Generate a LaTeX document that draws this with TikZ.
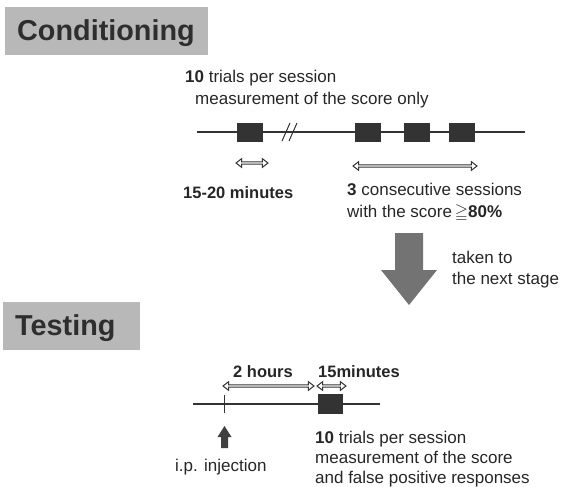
\documentclass[tikz,border=0pt]{standalone}
\usepackage{amssymb}
\usepackage{fontspec}
\setmainfont{Liberation Sans}
\usetikzlibrary{arrows.meta,shapes.arrows}
\begin{document}
\begin{tikzpicture}[x=1pt,y=-1pt,
  txt/.style={text=black!85, font=\fontsize{17}{20}\selectfont, inner sep=0pt, anchor=base west},
  btxt/.style={txt, font=\fontsize{16.5}{20}\selectfont\bfseries},
  headtxt/.style={text=black!82, font=\fontsize{28.8}{32}\selectfont\bfseries, inner sep=0pt, anchor=base west},
  headbox/.style={fill=black!28, draw=none, inner sep=0pt, anchor=north west},
  sess/.style={fill=black!80, draw=black!80, minimum width=25pt, minimum height=18pt, inner sep=0pt},
  tl/.style={draw=black!80, line width=1.3pt},
  dbl/.style={double arrow, draw=black!80, fill=white, line width=1pt, inner sep=0pt,
              minimum width=8.5pt, double arrow head extend=1.6pt, double arrow tip angle=75},
  bigarrow/.style={fill=black!55, draw=none},
  smallarrow/.style={fill=black!75, draw=none}
]
\useasboundingbox (0,0) rectangle (562,487);

% ---------- Conditioning ----------
\node[headbox, minimum width=203pt, minimum height=48pt] (condbox) at (5,7) {};
\node[headtxt] (condtxt) at (17,41) {Conditioning};

\node[txt] (c10) at (185,82) {{\bfseries 10} trials per session};
\node[txt] (cmeas) at (195,104) {measurement of the score only};

\coordinate (a0) at (197,132);
\coordinate (a1) at (525,132);
\draw[tl] (a0) -- (a1);
\draw[tl, line width=1pt] (282,141) -- (290,123);
\draw[tl, line width=1pt] (289,141) -- (297,123);
\node[sess] (b1) at (250,132) {};
\node[sess] (b2) at (368,132) {};
\node[sess] (b3) at (417,132) {};
\node[sess] (b4) at (461.5,132) {};

\node[dbl, minimum height=32pt] (d1) at (252,163) {};
\node[dbl, minimum height=124pt] (d2) at (415,166) {};

\node[btxt] (c1520) at (183,198) {15-20 minutes};
\node[txt] (c3a) at (347,195) {{\bfseries 3} consecutive sessions};
\node[txt] (c3b) at (347,217) {with the score\,{\boldmath$\geqq$}{\bfseries 80\%}};

% ---------- big arrow ----------
\fill[bigarrow] (395,233) -- (423,233) -- (423,270) -- (437,270) -- (409,305)
  -- (381,270) -- (395,270) -- cycle;
\node[txt] (tk1) at (452,263) {taken to};
\node[txt] (tk2) at (452,284) {the next stage};

% ---------- Testing ----------
\node[headbox, minimum width=137pt, minimum height=48pt] (testbox) at (3,302) {};
\node[headtxt] (testtxt) at (15,335) {Testing};

\node[btxt] (t2h) at (233,377) {2 hours};
\node[btxt] (t15) at (318,377) {15minutes};

\node[dbl, minimum height=91pt] (e1) at (268.5,386) {};
\node[dbl, minimum height=29pt] (e2) at (331.5,386) {};

\coordinate (f0) at (193,404);
\coordinate (f1) at (380,404);
\draw[tl] (f0) -- (f1);
\coordinate (tk) at (224,404);
\draw[draw=black!80, line width=1pt] ([yshift=-9pt]tk) -- ([yshift=9pt]tk);
\node[sess, minimum width=24pt, minimum height=19pt] (tb) at (330,404) {};

\fill[smallarrow] (221,448) -- (228,448) -- (228,437) -- (231.5,437) -- (224.5,426)
  -- (217.5,437) -- (221,437) -- cycle;
\node[txt] (ip) at (175,471) {i.p. injection};

\node[txt] (t10) at (315,443) {{\bfseries 10} trials per session};
\node[txt] (tmeas) at (315,463.5) {measurement of the score};
\node[txt] (tfalse) at (315,483) {and false positive responses};
\end{tikzpicture}
\end{document}
